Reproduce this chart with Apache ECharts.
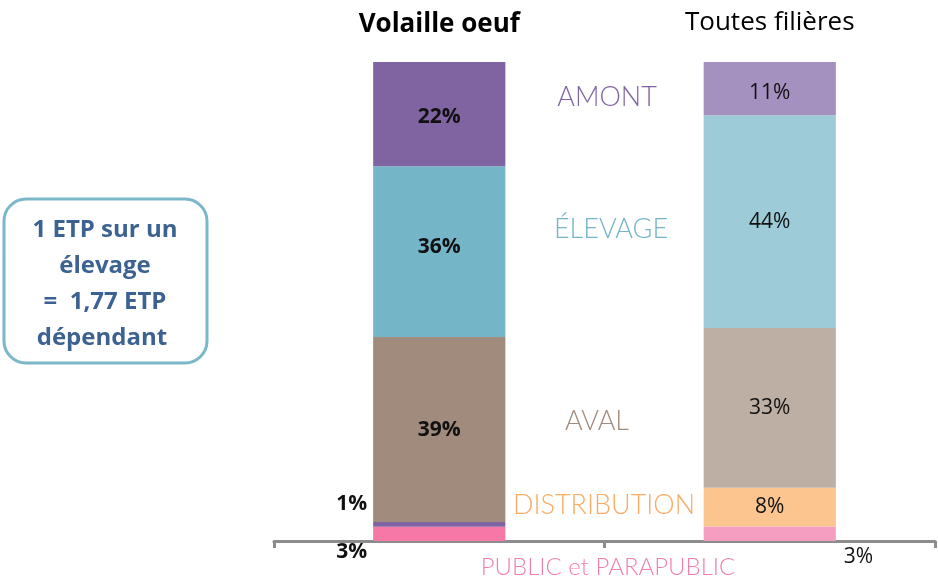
<!DOCTYPE html>
<html>
<head>
<meta charset="utf-8">
<script src="https://cdn.jsdelivr.net/npm/echarts@6/dist/echarts.min.js"></script>
<style>
  html, body { margin: 0; padding: 0; background: #fff; }
  #chart { width: 938px; height: 584px; }
</style>
</head>
<body>
<div id="chart"></div>
<script>
// Répartition des emplois par maillon (en %)
const categories = ['Volaille oeuf', 'Toutes filières'];
const segments = ['PUBLIC et PARAPUBLIC', 'DISTRIBUTION', 'AVAL', 'ÉLEVAGE', 'AMONT'];
const volailleOeuf = [3, 1, 39, 36, 22];
const toutesFilieres = [3, 8, 33, 44, 11];

// Couleurs par maillon : [Volaille oeuf, Toutes filières]
const colors = [
  ['#f578a7', '#f59ec1'],
  ['#8064a2', '#fcc58f'],
  ['#a18b7c', '#bdafa3'],
  ['#74b5c7', '#9dcbd8'],
  ['#8064a2', '#a591c0']
];
const segmentTextColors = ['#f27fae', '#fbab62', '#a18b7c', '#74b5c7', '#8064a2'];

const columns = [volailleOeuf, toutesFilieres];
const totals = columns.map(c => c.reduce((a, b) => a + b, 0));

function labelFor(seg, col) {
  const base = {
    show: true,
    formatter: '{@[2]}%',
    fontFamily: 'Open Sans',
    fontSize: 21,
    color: '#111'
  };
  if (col === 0) {
    base.fontWeight = 'bold';
    if (seg === 0) { base.position = 'left'; base.distance = 6; base.offset = [0, 18]; }
    else if (seg === 1) { base.position = 'left'; base.distance = 6; base.offset = [0, -20]; }
    else {
      base.position = 'inside';
      if (seg === 3) base.offset = [0, -5];
      if (seg === 4) base.offset = [0, 3];
    }
  } else {
    if (seg === 0) { base.position = 'right'; base.distance = 8; base.offset = [0, 23]; }
    else {
      base.position = 'inside';
      if (seg === 4) base.offset = [0, 4];
    }
  }
  return base;
}

const series = segments.map((name, s) => ({
  name: name,
  type: 'bar',
  stack: 'total',
  barWidth: '40%',
  data: columns.map((col, c) => ({
    // part du total de la colonne (barres 100 %), valeur affichée en étiquette
    value: [c, col[s] / totals[c] * 100, col[s]],
    itemStyle: { color: colors[s][c] },
    label: labelFor(s, c)
  })),
  encode: { x: 0, y: 1 }
}));

const chart = echarts.init(document.getElementById('chart'));

const segLabelPos = [
  [608, 567], [604, 505], [597, 421], [611, 229], [607, 97]
];
const segLabelSize = [24, 27, 27, 27, 27];

chart.setOption({
  animation: false,
  grid: { left: 274, right: 3, top: 62, bottom: 43 },
  xAxis: [
    {
      type: 'category',
      data: categories,
      axisLine: { lineStyle: { color: '#8c8c8c', width: 3 } },
      axisTick: { show: true, length: 7, lineStyle: { color: '#8c8c8c', width: 3 } },
      axisLabel: { show: false }
    },
    {
      type: 'category',
      position: 'top',
      data: categories,
      axisLine: { show: false },
      axisTick: { show: false },
      axisLabel: {
        margin: 24,
        formatter: (v, i) => i === 0 ? '{b|' + v + '}' : '{n|' + v + '}',
        rich: {
          b: { fontFamily: 'Open Sans', fontWeight: 'bold', fontSize: 26, color: '#000' },
          n: { fontFamily: 'Open Sans', fontSize: 26, color: '#000', padding: [0, 0, 2, 0] }
        }
      }
    }
  ],
  yAxis: { type: 'value', min: 0, max: 100, show: false },
  series: series,
  graphic: [
    {
      type: 'rect',
      shape: { x: 4, y: 199, width: 203, height: 164, r: 22 },
      style: { fill: '#fff', stroke: '#7ab8c9', lineWidth: 3 }
    },
    {
      type: 'text',
      x: 105, y: 284,
      style: {
        text: '1 ETP sur un\nélevage\n=  1,77 ETP\ndépendant ',
        align: 'center', verticalAlign: 'middle',
        fontFamily: 'Open Sans', fontWeight: 'bold', fontSize: 24,
        lineHeight: 36, fill: '#3c6292'
      }
    }
  ].concat(segments.map((name, s) => ({
    type: 'text',
    x: segLabelPos[s][0], y: segLabelPos[s][1],
    style: {
      text: name,
      align: 'center', verticalAlign: 'middle',
      fontFamily: 'Lato', fontWeight: 300, fontSize: segLabelSize[s],
      fill: segmentTextColors[s]
    }
  })))
});
</script>
</body>
</html>
